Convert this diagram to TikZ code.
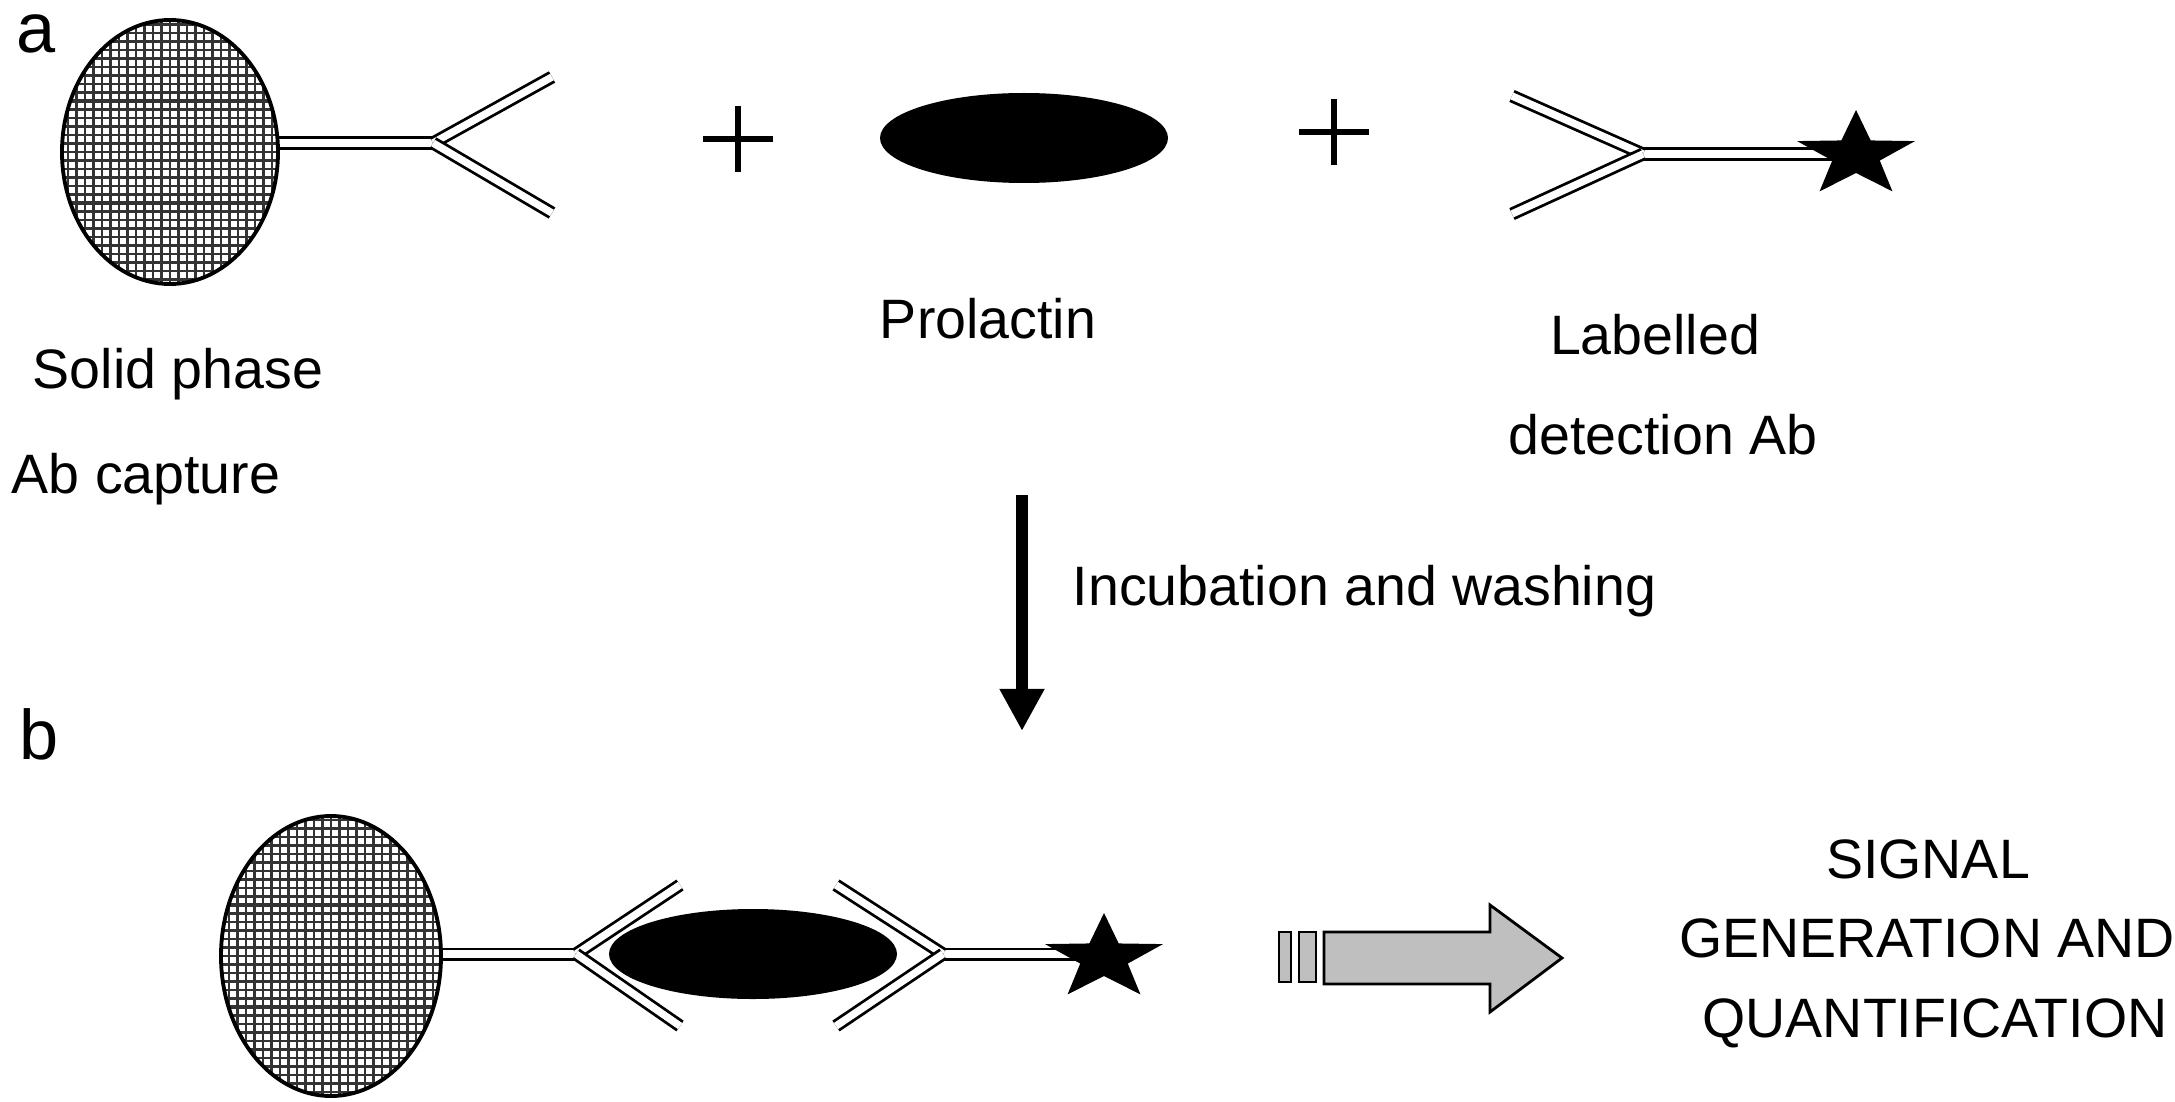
\documentclass[tikz,border=0pt]{standalone}
\usepackage{fontspec}
\setmainfont{Liberation Sans}
\usetikzlibrary{arrows.meta,calc}
\newcommand\mybead[5]{% name, cx, cy, rx, ry
  \coordinate (#1) at (#2,#3);
  \begin{scope}
    \clip (#1) ellipse [x radius=#4, y radius=#5];
    \fill[white] (#1) ellipse [x radius=#4, y radius=#5];
    \foreach \k in {-17,...,17} {
      \draw[gridline] ({#2+\k*8.5},{#3-#5}) -- ({#2+\k*8.5},{#3+#5});
      \draw[gridline] ({#2-#4},{#3+\k*8.5}) -- ({#2+#4},{#3+\k*8.5});
    }
    \draw[gridline, line width=0.95pt] ({#2-#4},{#3-51}) -- ({#2+#4},{#3-51});
    \draw[gridline, line width=0.95pt] ({#2-#4},{#3+51}) -- ({#2+#4},{#3+51});
    \draw[gridline, line width=0.95pt] ({#2-8.5},{#3-#5}) -- ({#2-8.5},{#3+#5});
  \end{scope}
  \draw[line width=1.1pt] (#1) ellipse [x radius=#4, y radius=#5];
}
\newcommand\mystar[3]{% name, cx, cy
  \coordinate (#1) at (#2,#3);
  \fill[black, shift={(#1)}]
    ({62*cos(270)},{45*sin(270)}) -- ({25*cos(306)},{18*sin(306)}) --
    ({62*cos(342)},{45*sin(342)}) -- ({25*cos(18)},{18*sin(18)}) --
    ({62*cos(54)},{45*sin(54)}) -- ({25*cos(90)},{18*sin(90)}) --
    ({62*cos(126)},{45*sin(126)}) -- ({25*cos(162)},{18*sin(162)}) --
    ({62*cos(198)},{45*sin(198)}) -- ({25*cos(234)},{18*sin(234)}) -- cycle;
}
\begin{document}
\begin{tikzpicture}[x=0.1mm,y=-0.1mm,
  gridline/.style={draw=black!80, line width=0.72pt},
  lbl/.style={font=\fontsize{15.8}{18}\selectfont, inner sep=0pt, anchor=base},
  panel/.style={font=\fontsize{20}{24}\selectfont, inner sep=0pt, anchor=base},
  abline/.style={draw=black, line width=0.8pt, double=white, double distance=2.1pt},
  plusline/.style={draw=black, line width=1.5pt},
  antigen/.style={fill=black},
  bigarrow/.style={fill=black!25!white, draw=black, line width=0.8pt, line join=miter}
]
\path[use as bounding box, fill=white] (0,0) rectangle (2175,1102);

% ---------- panel a ----------
\node[panel] (la) at (36,53) {a};

% capture antibody (top)
\coordinate (s1a) at (272,143);
\coordinate (j1) at (433,143);
\coordinate (u1) at (552,77);
\coordinate (d1) at (552,213);
\draw[abline] (s1a) -- (j1);
\draw[abline] (j1) -- (u1);
\draw[abline] (j1) -- (d1);
\mybead{bead1}{170}{152}{108}{132}

% plus signs
\coordinate (p1) at (738,139);
\draw[plusline] ($(p1)+(-35,0)$) -- ($(p1)+(35,0)$);
\draw[plusline] ($(p1)+(0,-33)$) -- ($(p1)+(0,33)$);
\coordinate (p2) at (1334,132);
\draw[plusline] ($(p2)+(-35,0)$) -- ($(p2)+(35,0)$);
\draw[plusline] ($(p2)+(0,-33)$) -- ($(p2)+(0,33)$);

% prolactin (top)
\coordinate (prl1) at (1024,138);
\fill[antigen] (prl1) ellipse [x radius=144, y radius=45];

% detection antibody (top)
\coordinate (j2) at (1643,154);
\coordinate (u2) at (1512,96);
\coordinate (d2) at (1512,214);
\coordinate (e2) at (1840,154);
\draw[abline] (j2) -- (e2);
\draw[abline] (u2) -- (j2);
\draw[abline] (d2) -- (j2);
\mystar{star1}{1856}{155}

% labels
\node[lbl] (t1) at (178,388) {Solid phase};
\node[lbl] (t2) at (146,493) {Ab capture};
\node[lbl] (t3) at (988,338) {Prolactin};
\node[lbl] (t4) at (1655,354) {Labelled};
\node[lbl] (t5) at (1663,454) {detection Ab};

% incubation arrow
\coordinate (va) at (1022,495);
\coordinate (vb) at (1022,731);
\draw[line width=3.2pt, -{Triangle[length=12pt,width=12pt]}] (va) -- (vb);
\node[lbl, anchor=base west] (t6) at (1072,605) {Incubation and washing};

% ---------- panel b ----------
\node[panel] (lb) at (39,759) {b};

\coordinate (s3a) at (436,954);
\coordinate (j3) at (576,954);
\coordinate (u3) at (680,885);
\coordinate (d3) at (680,1026);
\draw[abline] (s3a) -- (j3);
\draw[abline] (j3) -- (u3);
\draw[abline] (j3) -- (d3);
\mybead{bead2}{331}{956}{110}{140}

\coordinate (prl2) at (753,954);
\fill[antigen] (prl2) ellipse [x radius=144, y radius=45];

\coordinate (j4) at (943,954);
\coordinate (u4) at (836,885);
\coordinate (d4) at (836,1026);
\coordinate (e4) at (1090,954);
\draw[abline] (j4) -- (e4);
\draw[abline] (u4) -- (j4);
\draw[abline] (d4) -- (j4);
\mystar{star2}{1104}{958}

% signal arrow
\draw[bigarrow] (1279,932) rectangle (1291,982);
\draw[bigarrow] (1299,932) rectangle (1316,982);
\draw[bigarrow] (1324,932) -- (1490,932) -- (1490,905) -- (1562,958)
  -- (1490,1012) -- (1490,984) -- (1324,984) -- cycle;
\coordinate (sigarrow) at (1562,958);

\node[lbl] (t7) at (1928,878) {SIGNAL};
\node[lbl] (t8) at (1927,957) {GENERATION AND};
\node[lbl] (t9) at (1935,1037) {QUANTIFICATION};
\end{tikzpicture}
\end{document}
